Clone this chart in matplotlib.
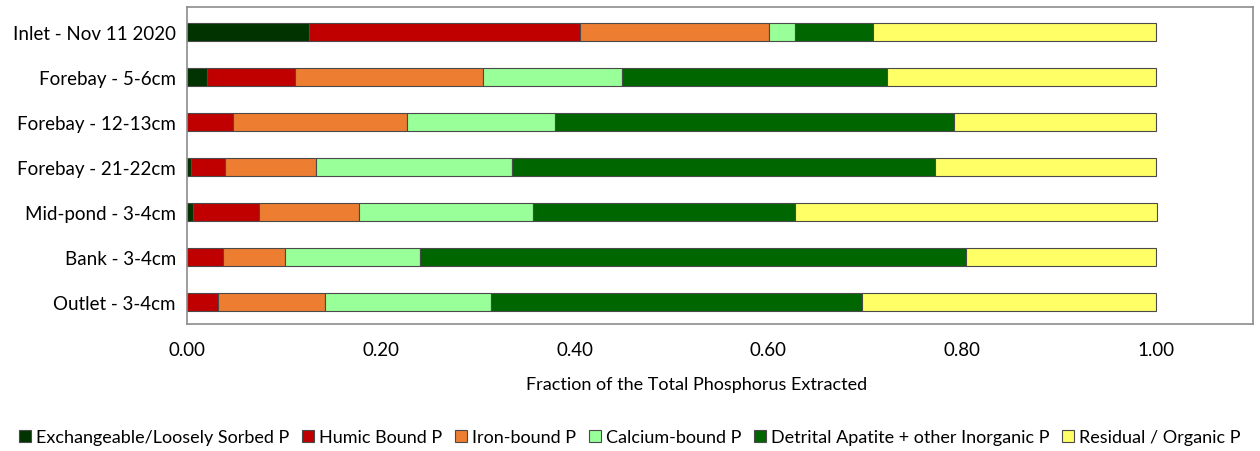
import matplotlib.pyplot as plt
import numpy as np

plt.rcParams['font.family'] = ['Lato', 'DejaVu Sans']

samples = ['Inlet - Nov 11 2020', 'Forebay - 5-6cm', 'Forebay - 12-13cm',
           'Forebay - 21-22cm', 'Mid-pond - 3-4cm', 'Bank - 3-4cm',
           'Outlet - 3-4cm']

# fractions of total P per extraction step
exchangeable = [0.126, 0.021, 0.000, 0.004, 0.006, 0.000, 0.000]
humic        = [0.280, 0.090, 0.047, 0.035, 0.068, 0.037, 0.032]
iron         = [0.195, 0.194, 0.180, 0.094, 0.103, 0.064, 0.110]
calcium      = [0.026, 0.144, 0.153, 0.202, 0.180, 0.139, 0.172]
detrital     = [0.081, 0.273, 0.411, 0.437, 0.270, 0.564, 0.383]
residual     = [0.292, 0.278, 0.209, 0.228, 0.374, 0.196, 0.303]

fractions = [exchangeable, humic, iron, calcium, detrital, residual]
names = ['Exchangeable/Loosely Sorbed P', 'Humic Bound P', 'Iron-bound P',
         'Calcium-bound P', 'Detrital Apatite + other Inorganic P',
         'Residual / Organic P']
colors = ['#003300', '#C00000', '#ED7D31', '#99FF99', '#006600', '#FFFF66']

fig = plt.figure(figsize=(12.6, 4.52), dpi=100)
ax = fig.add_axes([187 / 1260, 1 - 325 / 452, (1253 - 187) / 1260, (325 - 8) / 452])

y = np.arange(len(samples))
left = np.zeros(len(samples))
for vals, name, col in zip(fractions, names, colors):
    ax.barh(y, vals, left=left, height=0.4, color=col, edgecolor='#4a4a4a',
            linewidth=0.8, label=name)
    left += np.array(vals)

ax.set_yticks(y)
ax.set_yticklabels(samples, fontsize=13.5)
ax.set_ylim(6.5, -0.55)
ax.set_xlim(0, 1.1)
ax.set_xticks([0, 0.2, 0.4, 0.6, 0.8, 1.0])
ax.set_xticklabels(['0.00', '0.20', '0.40', '0.60', '0.80', '1.00'], fontsize=13.5)
ax.tick_params(axis='both', length=0, pad=8)
ax.tick_params(axis='x', pad=12)
ax.set_xlabel('Fraction of the Total Phosphorus Extracted', fontsize=13)
ax.xaxis.set_label_coords(0.478, -0.165)

for s in ax.spines.values():
    s.set_color('#8c8c8c')
    s.set_linewidth(1.2)

fig.legend(loc='center', bbox_to_anchor=(0.5, 1 - 438 / 452), ncol=6, frameon=False,
           fontsize=13, handlelength=0.65, handleheight=0.65, handletextpad=0.3,
           columnspacing=0.7, borderaxespad=0)

fig.savefig('out.png', dpi=100)
